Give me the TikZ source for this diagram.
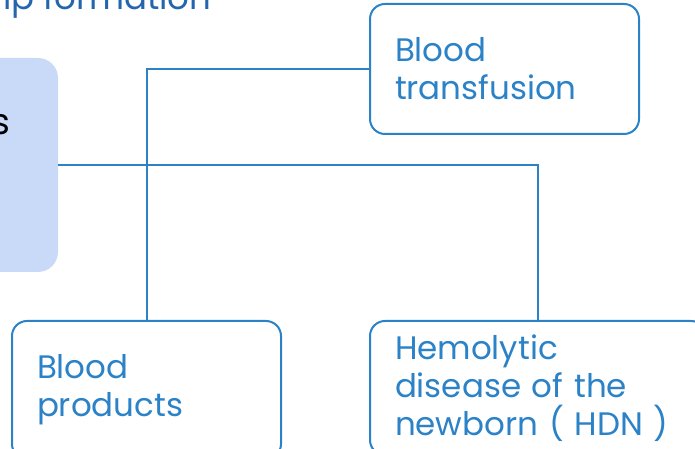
\documentclass[tikz,border=0pt]{standalone}
\usepackage{fontspec}
\setmainfont{Poppins}
\definecolor{linkblue}{HTML}{2B82C7}
\definecolor{titleblue}{HTML}{2366AE}
\definecolor{rootfill}{HTML}{C9DAF8}
\begin{document}
\begin{tikzpicture}[x=1pt, y=1pt,
  leaf/.style={draw=linkblue, line width=2pt, rounded corners=15pt, text=linkblue, align=left, inner xsep=25pt, font=\fontsize{32.5}{38}\selectfont},
  link/.style={draw=linkblue, line width=2pt}]
	\useasboundingbox (0,0) rectangle (695,449);
	\clip (0,0) rectangle (695,449);
	\node[fill=rootfill, rounded corners=20pt, minimum width=208pt, minimum height=214pt] (root) at (-46,284) {};
	\node[anchor=base west, inner sep=0pt, font=\fontsize{36}{38}\selectfont] (rootlabel) at (-9,314) {s};
	\node[anchor=base west, inner sep=0pt, text=titleblue, font=\fontsize{34}{38}\selectfont] (title) at (3,439) {ip formation};
	\node[leaf, text width=219pt, minimum height=130pt] (trans) at (504.5,380) {Blood\\transfusion};
	\node[leaf, text width=219pt, minimum height=138pt] (prod) at (146.5,59) {Blood\\products};
	\node[leaf, text width=286pt, minimum height=134pt] (hdn) at (538,61) {Hemolytic\\disease of the\\newborn ( HDN )};
	\draw[link] (root.east) -| (hdn.north);
	\draw[link] (prod.north) |- (trans.west);
\end{tikzpicture}
\end{document}
